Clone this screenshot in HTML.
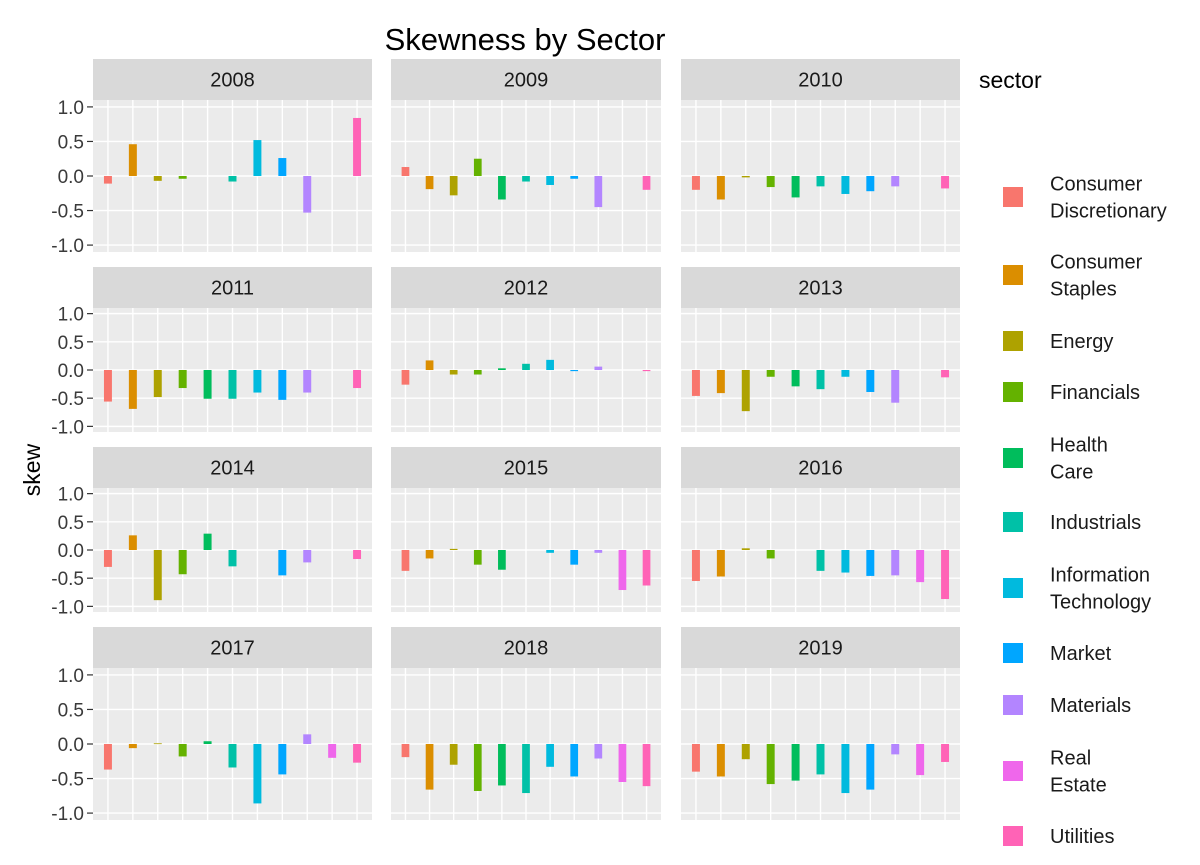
<!DOCTYPE html>
<html><head><meta charset="utf-8">
<style>
html,body{margin:0;padding:0;background:#fff;}
svg{display:block;font-family:"Liberation Sans","DejaVu Sans",sans-serif;}
</style></head>
<body>
<svg id="chart" width="1200" height="865" viewBox="0 0 1200 865"></svg>
<script>
const sectors = ["Consumer Discretionary","Consumer Staples","Energy","Financials","Health Care","Industrials","Information Technology","Market","Materials","Real Estate","Utilities"];
const years = ["2008","2009","2010","2011","2012","2013","2014","2015","2016","2017","2018","2019"];
const skew2008 = [-0.11,0.46,-0.07,-0.04,null,-0.08,0.52,0.26,-0.53,null,0.84];
const skew2009 = [0.13,-0.19,-0.28,0.25,-0.34,-0.08,-0.13,-0.04,-0.45,null,-0.20];
const skew2010 = [-0.20,-0.34,-0.02,-0.16,-0.31,-0.15,-0.26,-0.22,-0.15,null,-0.18];
const skew2011 = [-0.56,-0.69,-0.48,-0.32,-0.51,-0.51,-0.40,-0.53,-0.40,null,-0.32];
const skew2012 = [-0.26,0.17,-0.08,-0.08,0.03,0.11,0.18,-0.02,0.06,null,-0.02];
const skew2013 = [-0.46,-0.41,-0.73,-0.12,-0.29,-0.34,-0.12,-0.39,-0.58,null,-0.13];
const skew2014 = [-0.30,0.26,-0.89,-0.43,0.29,-0.29,null,-0.45,-0.22,null,-0.16];
const skew2015 = [-0.37,-0.15,0.02,-0.26,-0.35,null,-0.05,-0.26,-0.05,-0.71,-0.63];
const skew2016 = [-0.55,-0.47,0.03,-0.15,null,-0.37,-0.40,-0.46,-0.45,-0.57,-0.87];
const skew2017 = [-0.37,-0.06,0.01,-0.18,0.04,-0.34,-0.86,-0.44,0.14,-0.20,-0.27];
const skew2018 = [-0.19,-0.66,-0.30,-0.68,-0.60,-0.71,-0.33,-0.47,-0.21,-0.55,-0.61];
const skew2019 = [-0.40,-0.47,-0.22,-0.58,-0.53,-0.44,-0.71,-0.66,-0.15,-0.45,-0.26];
const yTicks = [1.0,0.5,0.0,-0.5,-1.0];
const yTickLabels = ["1.0","0.5","0.0","-0.5","-1.0"];
const colors = ["#F8766D","#DB8E00","#AEA200","#64B200","#00BD5C","#00C1A7","#00BADE","#00A6FF","#B385FF","#EF67EB","#FF63B6"];
const legendLines = [["Consumer","Discretionary"],["Consumer","Staples"],["Energy"],["Financials"],["Health","Care"],["Industrials"],["Information","Technology"],["Market"],["Materials"],["Real","Estate"],["Utilities"]];
const series = [skew2008,skew2009,skew2010,skew2011,skew2012,skew2013,skew2014,skew2015,skew2016,skew2017,skew2018,skew2019];

const NS="http://www.w3.org/2000/svg";
const svg=document.getElementById('chart');
function mk(tag,attrs,parent){const e=document.createElementNS(NS,tag);for(const k in attrs)e.setAttribute(k,attrs[k]);(parent||svg).appendChild(e);return e;}

const cols=[{x0:93,x1:372},{x0:391,x1:661},{x0:681,x1:960}];
const rows=[{top:100,h:152},{top:308,h:124},{top:488,h:124},{top:668,h:152}];
const STRIP=41, YLIM=1.1;

let t=mk('text',{x:525,y:50,'font-size':31,'text-anchor':'middle',fill:'#000'});


t.textContent='Skewness by Sector';

t=mk('text',{x:0,y:0,'font-size':23,'text-anchor':'middle',fill:'#000',transform:'translate(40,470) rotate(-90)'});


t.textContent='skew';

years.forEach((yr,i)=>{
  const c=cols[i%3], r=rows[Math.floor(i/3)];
  const w=c.x1-c.x0;
  const step=w/(sectors.length+0.2);
  const xPos=j=>c.x0+step*(0.6+j);
  const yPos=v=>r.top+r.h/2-v*(r.h/2/YLIM);
  const g=mk('g',{});
  
  
  const strip=mk('rect',{x:c.x0,y:r.top-STRIP,width:w,height:STRIP,fill:'#D9D9D9'},g);
  
  
  const st=mk('text',{x:(c.x0+c.x1)/2,y:r.top-STRIP/2+7,'font-size':20,'text-anchor':'middle',fill:'#1a1a1a'},g);
  
  
  st.textContent=yr;
  const bg=mk('rect',{x:c.x0,y:r.top,width:w,height:r.h,fill:'#EBEBEB'},g);
  
  
  yTicks.forEach(v=>{mk('line',{x1:c.x0,x2:c.x1,y1:yPos(v),y2:yPos(v),stroke:'#fff','stroke-width':1.4},g);});
  sectors.forEach((s,j)=>{mk('line',{x1:xPos(j),x2:xPos(j),y1:r.top,y2:r.top+r.h,stroke:'#fff','stroke-width':1.4},g);});
  series[i].forEach((v,j)=>{
    if(v===null)return;
    const bw=step*0.32;
    const y0=yPos(0), y1=yPos(v);
    const b=mk('rect',{x:xPos(j)-bw/2,y:Math.min(y0,y1),width:bw,height:Math.max(Math.abs(y1-y0),0.8),fill:colors[j]},g);
    
    
  });
  if(i%3===0){
    yTicks.forEach((v,k)=>{
      mk('line',{x1:c.x0-6,x2:c.x0,y1:yPos(v),y2:yPos(v),stroke:'#333','stroke-width':1.2},g);
      const tl=mk('text',{x:c.x0-9,y:yPos(v)+7,'font-size':19,'text-anchor':'end',fill:'#3a3a3a'},g);
      
      
      tl.textContent=yTickLabels[k];
    });
  }
});

const lg=mk('g',{});


t=mk('text',{x:979,y:88,'font-size':23,fill:'#000'},lg);


t.textContent='sector';
const legendY=[197,275,341,392,458,522,588,653,705,771,836];
legendLines.forEach((lines,j)=>{
  const cy=legendY[j];
  const e=mk('g',{},lg);
  
  
  mk('rect',{x:1003,y:cy-10,width:20,height:20,fill:colors[j]},e);
  const lh=27;
  lines.forEach((ln,k)=>{
    const tx=mk('text',{x:1050,y:cy+7+(k-(lines.length-1)/2)*lh,'font-size':20,fill:'#1a1a1a'},e);
    tx.textContent=ln;
  });
});
</script>
</body></html>
